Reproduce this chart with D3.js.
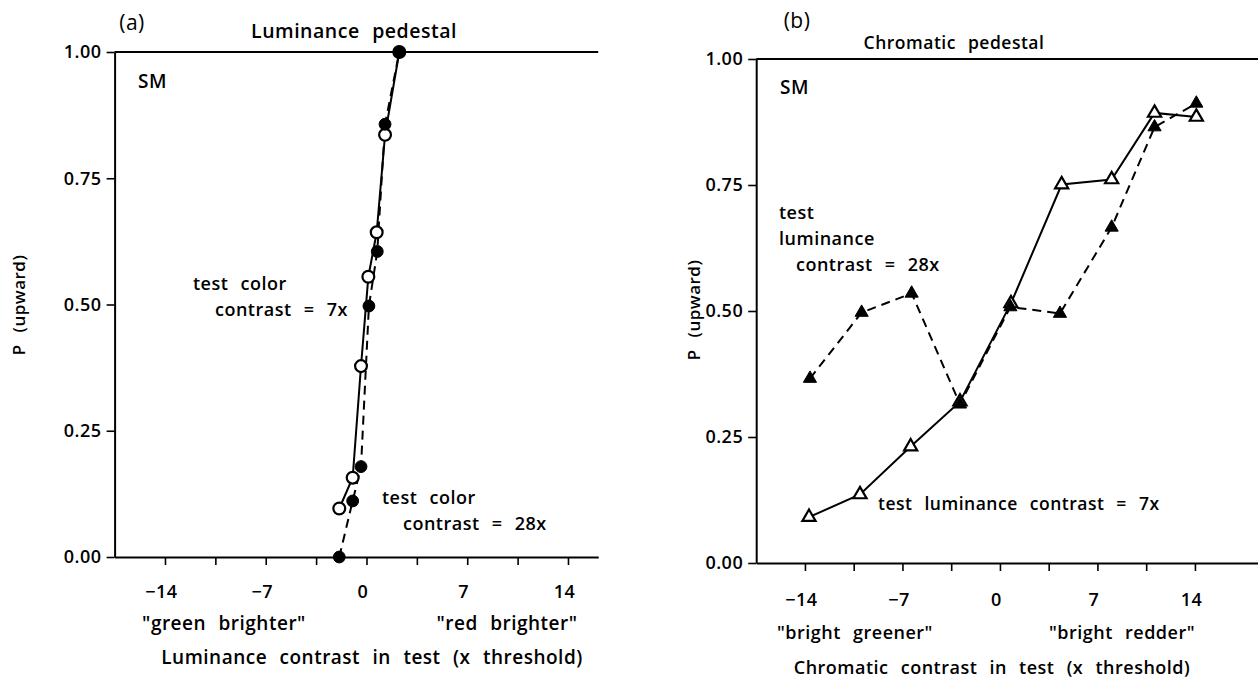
<!DOCTYPE html>
<html><head><meta charset="utf-8">
<script src="https://cdn.jsdelivr.net/npm/d3@7"></script>
<style>
body{margin:0;background:#fff;}
svg text{font-family:"Open Sans",sans-serif;font-weight:600;fill:#000;word-spacing:7px;letter-spacing:0.5px;}
</style></head>
<body>
<svg id="chart" width="1258" height="681"></svg>
<script>
// ---- data ----
const xTicks = [-14, -10.5, -7, -3.5, 0, 3.5, 7, 10.5, 14];
const xTickLabels = ["\u221214", "", "\u22127", "", "0", "", "7", "", "14"];
const yTicks = [0, 0.25, 0.5, 0.75, 1.0];
const yTickLabels = ["0.00", "0.25", "0.50", "0.75", "1.00"];

// Panel (a): luminance pedestal
const aOpenX   = [-1.89, -0.96, -0.38, 0.13, 0.71, 1.29, 2.28];
const aOpenY   = [0.096, 0.157, 0.378, 0.555, 0.643, 0.836, 1.0];
const aFilledX = [-1.89, -0.96, -0.38, 0.17, 0.75, 1.29, 2.28];
const aFilledY = [0.0, 0.111, 0.179, 0.497, 0.605, 0.857, 1.0];

// Panel (b): chromatic pedestal
const bOpenX   = [-13.71, -10.05, -6.41, -2.87, 0.79, 4.43, 8.02, 11.1, 14.1];
const bOpenY   = [0.091, 0.136, 0.231, 0.320, 0.515, 0.751, 0.761, 0.893, 0.885];
const bFilledX = [-13.64, -9.93, -6.34, -2.87, 0.75, 4.31, 8.02, 11.1, 14.1];
const bFilledY = [0.366, 0.497, 0.535, 0.315, 0.508, 0.495, 0.666, 0.865, 0.912];

const svg = d3.select("#chart");
const zip = (xs, ys) => xs.map((x, i) => ({x, y: ys[i]}));
const FONT = '"Open Sans",sans-serif';

function panel(cfg) {
  const x = d3.scaleLinear().domain(cfg.xDomain).range(cfg.xRange);
  const y = d3.scaleLinear().domain([0, 1]).range(cfg.yRange);
  const g = svg.append("g");

  // top line
  g.append("line").attr("x1", cfg.xRange[0]).attr("x2", cfg.xRange[1])
    .attr("y1", y(1)).attr("y2", y(1)).attr("stroke", "#000").attr("stroke-width", 2);

  // x axis
  const xa = g.append("g").attr("transform", `translate(0,${y(0)})`)
    .call(d3.axisBottom(x).tickValues(xTicks).tickSize(8).tickSizeOuter(0)
      .tickFormat((d, i) => xTickLabels[i]));
  xa.select(".domain").attr("stroke-width", 2);
  xa.selectAll(".tick line").attr("stroke-width", 1.6);
  xa.selectAll(".tick text").attr("font-size", 18).attr("dy", cfg.xLabelDy).attr("dx", -4)
    .style("font-family", FONT).style("font-weight", 600);

  // y axis
  const ya = g.append("g").attr("transform", `translate(${cfg.xRange[0]},0)`)
    .call(d3.axisLeft(y).tickValues(yTicks).tickSize(8).tickSizeOuter(0)
      .tickFormat((d, i) => yTickLabels[i]));
  ya.select(".domain").attr("stroke-width", 2);
  ya.selectAll(".tick line").attr("stroke-width", 1.6);
  ya.selectAll(".tick text").attr("font-size", 18).attr("dx", -2)
    .style("font-family", FONT).style("font-weight", 600);

  const line = d3.line().x(d => x(d.x)).y(d => y(d.y));
  // filled series, dashed
  g.append("path").datum(cfg.filled).attr("d", line).attr("fill", "none")
    .attr("stroke", "#000").attr("stroke-width", 2).attr("stroke-dasharray", "9,6");
  // open series, solid
  g.append("path").datum(cfg.open).attr("d", line).attr("fill", "none")
    .attr("stroke", "#000").attr("stroke-width", 2);

  const sym = d3.symbol().type(cfg.symbol).size(cfg.symSize);
  g.selectAll(".o").data(cfg.open).join("path").attr("class", "o")
    .attr("d", sym).attr("transform", d => `translate(${x(d.x)},${y(d.y)})`)
    .attr("fill", "#fff").attr("stroke", "#000").attr("stroke-width", 2.2);
  g.selectAll(".f").data(cfg.filled).join("path").attr("class", "f")
    .attr("d", sym).attr("transform", d => `translate(${x(d.x)},${y(d.y)})`)
    .attr("fill", "#000").attr("stroke", "#000").attr("stroke-width", 1);
  return {x, y, g};
}

const A = panel({
  xDomain: [-17.5, 16.1], xRange: [114.6, 598.2], yRange: [557, 52], xLabelDy: 30,
  open: zip(aOpenX, aOpenY), filled: zip(aFilledX, aFilledY),
  symbol: d3.symbolCircle, symSize: 110
});
const B = panel({
  xDomain: [-17.5, 18.6], xRange: [756.2, 1259], yRange: [563, 59], xLabelDy: 32,
  open: zip(bOpenX, bOpenY), filled: zip(bFilledX, bFilledY),
  symbol: d3.symbolTriangle, symSize: 75
});

function txt(x, y, s, size, anchor, extra) {
  const t = svg.append("text").attr("x", x).attr("y", y).attr("font-size", size)
    .attr("text-anchor", anchor || "start").attr("dominant-baseline", "central").text(s);
  if (extra) extra(t);
  return t;
}
// panel (a) texts
txt(132, 22, "(a)", 21, "middle", t => t.style("font-weight", 400));
txt(354, 30, "Luminance pedestal", 19.5, "middle");
txt(138, 81, "SM", 19, "start");
txt(193, 283, "test color", 18, "start");
txt(215, 309, "contrast = 7x", 18, "start");
txt(382, 497, "test color", 18, "start");
txt(403, 523, "contrast = 28x", 18, "start");
txt(224, 623, "\"green brighter\"", 19, "middle");
txt(507, 623, "\"red brighter\"", 19, "middle");
txt(372, 657, "Luminance contrast in test (x threshold)", 19, "middle");
txt(18, 305, "P (upward)", 17, "middle", t => t.attr("transform", "rotate(-90,18,305)"));

// panel (b) texts
txt(797, 20, "(b)", 21, "middle", t => t.style("font-weight", 400));
txt(954, 42, "Chromatic pedestal", 17.5, "middle");
txt(780, 87, "SM", 19, "start");
txt(779, 212, "test", 18, "start");
txt(779, 238, "luminance", 18, "start");
txt(796, 264, "contrast = 28x", 18, "start");
txt(878, 503, "test luminance contrast = 7x", 17.5, "start");
txt(855, 632, "\"bright greener\"", 18, "middle");
txt(1122, 632, "\"bright redder\"", 18, "middle");
txt(992, 667, "Chromatic contrast in test (x threshold)", 18, "middle");
txt(693, 310, "P (upward)", 17, "middle", t => t.attr("transform", "rotate(-90,693,310)"));
</script>
</body></html>
